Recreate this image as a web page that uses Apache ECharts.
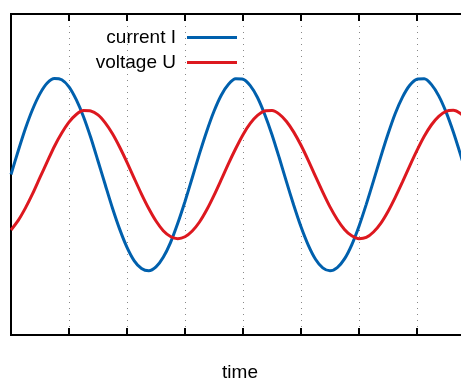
<!DOCTYPE html>
<html>
<head>
<meta charset="utf-8">
<script src="https://cdn.jsdelivr.net/npm/echarts@6/dist/echarts.min.js"></script>
<style>
  html, body { margin: 0; padding: 0; background: #fff; overflow: hidden; }
  /* the plot runs past the right edge of the window, like the original */
  #chart { width: 480px; height: 380px; }
</style>
</head>
<body>
<div id="chart"></div>
<script>
// time samples (axis units, one tick = 1)
const times = [
  0, 0.125, 0.25, 0.375, 0.5, 0.625, 0.75, 0.875,
  1, 1.125, 1.25, 1.375, 1.5, 1.625, 1.75, 1.875,
  2, 2.125, 2.25, 2.375, 2.5, 2.625, 2.75, 2.875,
  3, 3.125, 3.25, 3.375, 3.5, 3.625, 3.75, 3.875,
  4, 4.125, 4.25, 4.375, 4.5, 4.625, 4.75, 4.875,
  5, 5.125, 5.25, 5.375, 5.5, 5.625, 5.75, 5.875,
  6, 6.125, 6.25, 6.375, 6.5, 6.625, 6.75, 6.875,
  7, 7.125, 7.25, 7.375, 7.5, 7.625, 7.75, 7.875,
  8
]
// values
const currentI = [
  0, 0.74, 1.44, 2.04, 2.52, 2.85, 2.99, 2.95,
  2.73, 2.33, 1.80, 1.15, 0.42, -0.32, -1.05, -1.71,
  -2.27, -2.69, -2.93, -3.00, -2.88, -2.58, -2.12, -1.52,
  -0.84, -0.10, 0.65, 1.35, 1.97, 2.47, 2.81, 2.98,
  2.97, 2.77, 2.40, 1.87, 1.24, 0.52, -0.23, -0.96,
  -1.63, -2.20, -2.64, -2.91, -3.00, -2.90, -2.63, -2.19,
  -1.61, -0.93, -0.20, 0.55, 1.26, 1.90, 2.41, 2.78,
  2.97, 2.98, 2.80, 2.45, 1.95, 1.33, 0.62, -0.13,
  -0.86
]
const voltageU = [
  -1.73, -1.43, -1.04, -0.59, -0.09, 0.40, 0.88, 1.29,
  1.63, 1.87, 1.99, 1.98, 1.86, 1.61, 1.27, 0.85,
  0.38, -0.12, -0.61, -1.06, -1.45, -1.75, -1.93, -2.00,
  -1.94, -1.76, -1.48, -1.10, -0.65, -0.16, 0.34, 0.81,
  1.24, 1.59, 1.84, 1.98, 1.99, 1.88, 1.65, 1.32,
  0.91, 0.44, -0.06, -0.55, -1.01, -1.40, -1.71, -1.91,
  -2.00, -1.96, -1.79, -1.52, -1.15, -0.71, -0.23, 0.27,
  0.75, 1.19, 1.55, 1.81, 1.97, 2.00, 1.90, 1.69,
  1.37
]
const xMin = 0
const xMax = 8
const yMin = -5
const yMax = 5

const font = 'Liberation Sans, Arial, sans-serif'
const blue = '#0060ad'
const red = '#dd181f'

const chart = echarts.init(document.getElementById('chart'))

const pairs = (ys) => times.map((t, i) => [t, ys[i]])

const legendBase = {
  right: 238,
  align: 'right',
  icon: 'rect',
  itemWidth: 50,
  itemHeight: 3,
  selectedMode: false,
  textStyle: {
    fontFamily: font,
    fontSize: 19,
    color: '#000',
    padding: [0, 6, 0, 0]
  }
}

chart.setOption({
  animation: false,
  grid: {
    left: 11,
    right: 5,
    top: 14,
    bottom: 45,
    outerBoundsMode: 'none',
    show: true,
    borderColor: '#000',
    borderWidth: 2
  },
  legend: [
    Object.assign({}, legendBase, { top: 23, data: ['current I'] }),
    Object.assign({}, legendBase, { top: 48, data: ['voltage U'] })
  ],
  xAxis: [
    {
      type: 'value',
      min: xMin,
      max: xMax,
      interval: 1,
      name: 'time',
      nameLocation: 'middle',
      nameGap: 28,
      nameTextStyle: { fontFamily: font, fontSize: 19, color: '#000', padding: [0, 6, 0, 0] },
      axisLine: { onZero: false, lineStyle: { color: '#000', width: 2 } },
      axisTick: { inside: true, length: 7, lineStyle: { color: '#000', width: 2 } },
      axisLabel: { show: false },
      splitLine: { show: true, lineStyle: { color: '#888', type: [1, 5], width: 1 } }
    },
    {
      type: 'value',
      position: 'top',
      min: xMin,
      max: xMax,
      interval: 1,
      axisLine: { onZero: false, lineStyle: { color: '#000', width: 2 } },
      axisTick: { inside: true, length: 7, lineStyle: { color: '#000', width: 2 } },
      axisLabel: { show: false },
      splitLine: { show: false }
    }
  ],
  yAxis: {
    type: 'value',
    min: yMin,
    max: yMax,
    axisLine: { show: true, onZero: false, lineStyle: { color: '#000', width: 2 } },
    axisTick: { show: false },
    axisLabel: { show: false },
    splitLine: { show: false }
  },
  series: [
    {
      name: 'current I',
      type: 'line',
      data: pairs(currentI),
      smooth: 0.25,
      symbol: 'none',
      color: blue,
      lineStyle: { width: 3 }
    },
    {
      name: 'voltage U',
      type: 'line',
      data: pairs(voltageU),
      smooth: 0.25,
      symbol: 'none',
      color: red,
      lineStyle: { width: 3 }
    }
  ]
})
</script>
</body>
</html>
